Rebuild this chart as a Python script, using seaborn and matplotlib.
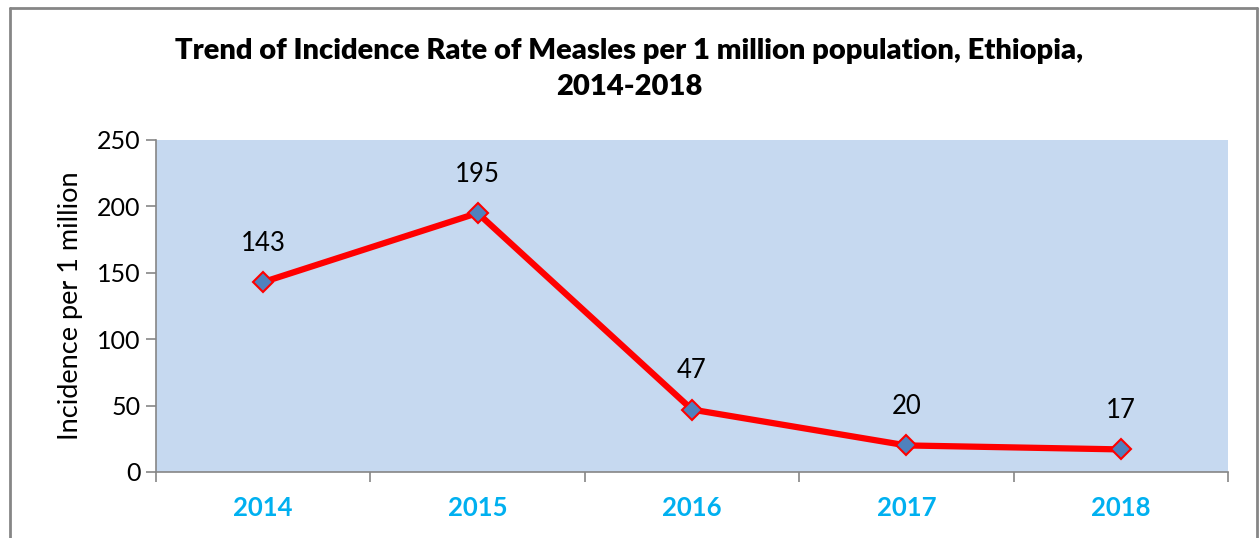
import matplotlib
matplotlib.use('Agg')
import matplotlib.pyplot as plt
import seaborn as sns
import pandas as pd
from matplotlib.lines import Line2D

years = ['2014', '2015', '2016', '2017', '2018']
incidence = [143, 195, 47, 20, 17]

df = pd.DataFrame({'year': years, 'incidence': incidence})

sns.set_style('white')
plt.rcParams['font.family'] = ['Lato', 'DejaVu Sans']
plt.rcParams['text.color'] = 'black'
plt.rcParams['axes.labelcolor'] = 'black'
plt.rcParams['ytick.color'] = 'black'

fig = plt.figure(figsize=(12.59, 5.38), dpi=100)
ax = fig.add_axes([0.1239, 0.1227, 0.8515, 0.6171])
ax.set_facecolor('#c6d9f0')

sns.lineplot(data=df, x='year', y='incidence', ax=ax, color='red', linewidth=4.5,
             marker='D', markersize=10, markerfacecolor='#4f81bd',
             markeredgecolor='red', markeredgewidth=1.5, sort=False)

for i, v in enumerate(incidence):
    ax.annotate(str(v), (i, v), xytext=(0, 28), textcoords='offset points',
                ha='center', va='center', fontsize=18.5)

ax.set_xlim(-0.5, 4.5)
ax.set_ylim(0, 250)
ax.set_yticks(range(0, 251, 50))
ax.set_xticks(range(len(years)))
ax.set_xticklabels(years, fontsize=18.5, fontweight='bold', color='#00b0f0')
ax.set_xticks([x - 0.5 for x in range(len(years) + 1)], minor=True)
ax.tick_params(axis='x', which='major', length=0, pad=17)
ax.tick_params(axis='x', which='minor', length=7, color='#868686', width=1.2, direction='out')
ax.tick_params(axis='y', length=7, color='#868686', labelcolor='black', width=1.2,
               direction='out', labelsize=18, pad=4)
ax.tick_params(axis='both', bottom=True, left=True)
ax.xaxis.set_tick_params(which='minor', bottom=True)

for s in ['top', 'right']:
    ax.spines[s].set_visible(False)
for s in ['left', 'bottom']:
    ax.spines[s].set_color('#868686')
    ax.spines[s].set_linewidth(1.2)

ax.set_xlabel('')
ax.set_ylabel('Incidence per 1 million', fontsize=19.5, labelpad=10)

fig.text(0.5, 1 - 69 / 538, 'Trend of Incidence Rate of Measles per 1 million population, Ethiopia,\n2014-2018',
         ha='center', va='center', fontsize=21, fontweight='heavy', linespacing=1.45)

# outer chart border
fig.add_artist(Line2D([10 / 1259, 10 / 1259], [0, 1 - 7.5 / 538], transform=fig.transFigure,
                      color='#868686', linewidth=2))
fig.add_artist(Line2D([10 / 1259, 1257 / 1259], [1 - 7.5 / 538, 1 - 7.5 / 538], transform=fig.transFigure,
                      color='#868686', linewidth=2))
fig.add_artist(Line2D([1257 / 1259, 1257 / 1259], [0, 1 - 7.5 / 538], transform=fig.transFigure,
                      color='#868686', linewidth=2))

fig.savefig('out.png', dpi=100)
